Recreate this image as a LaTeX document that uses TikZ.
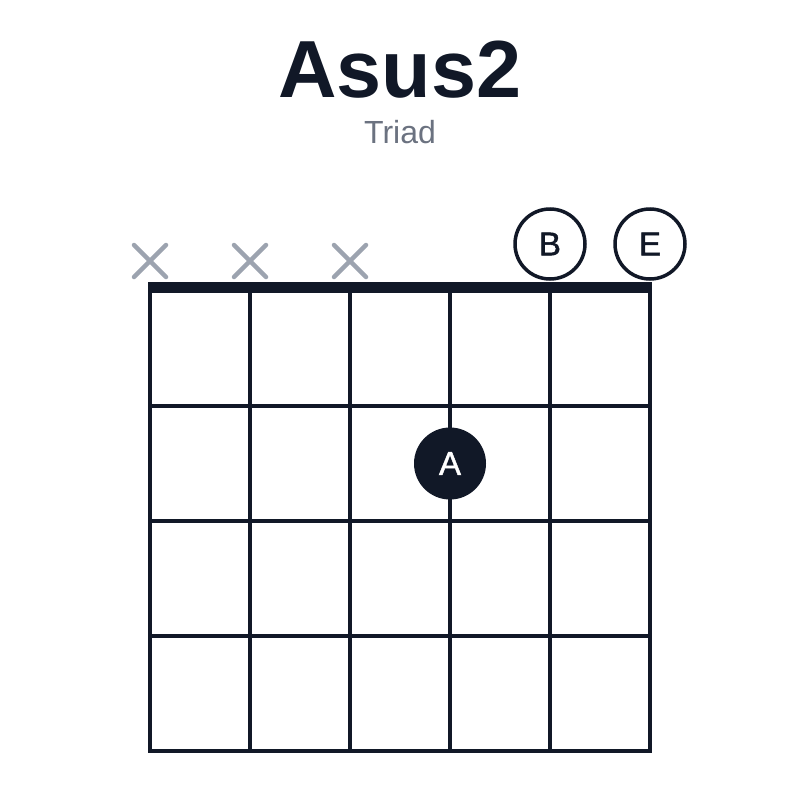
\documentclass[tikz,border=0pt]{standalone}
\usepackage{fontspec}
\setmainfont{Liberation Sans}
\newfontfamily\notefont[FakeBold=1.3]{Liberation Sans}
\definecolor{ink}{HTML}{111827}
\definecolor{mutegray}{HTML}{9CA3AF}
\definecolor{subgray}{HTML}{6B7280}
\begin{document}
\begin{tikzpicture}[x=1pt,y=-1pt,
  gridline/.style={draw=ink,line width=3.2pt},
  mutemark/.style={draw=mutegray,line width=4.5pt,line cap=round},
  opennote/.style={circle,draw=ink,fill=white,line width=3.5pt,minimum size=70pt,inner sep=0pt,text=ink,font=\fontsize{33}{33}\notefont},
  fingernote/.style={circle,fill=ink,minimum size=72pt,inner sep=0pt,text=white,font=\fontsize{33}{33}\notefont}
]
\useasboundingbox[fill=white] (0,0) rectangle (800,800);
% title
\node[anchor=base,text=ink,font=\fontsize{81}{81}\selectfont\bfseries,inner sep=0pt] (title) at (400,97) {Asus2};
\node[anchor=base,text=subgray,font=\fontsize{32}{32}\selectfont,inner sep=0pt] (subtitle) at (400,143) {Triad};
% strings
\foreach \i in {0,...,5} {
  \draw[gridline] (150+100*\i,291) -- (150+100*\i,751);
}
% frets
\foreach \j in {1,...,4} {
  \draw[gridline,line cap=rect] (150,291+115*\j) -- (650,291+115*\j);
}
% nut
\fill[ink] (148,282) rectangle (652,293);
% muted strings
\foreach \i in {0,1,2} {
  \draw[mutemark] (150+100*\i-16,261-16) -- (150+100*\i+16,261+16);
  \draw[mutemark] (150+100*\i-16,261+16) -- (150+100*\i+16,261-16);
}
% open strings
\node[opennote] (openB) at (550,244) {B};
\node[opennote] (openE) at (650,244) {E};
% fretted note
\node[fingernote] (noteA) at (450,463.5) {A};
\end{tikzpicture}
\end{document}
